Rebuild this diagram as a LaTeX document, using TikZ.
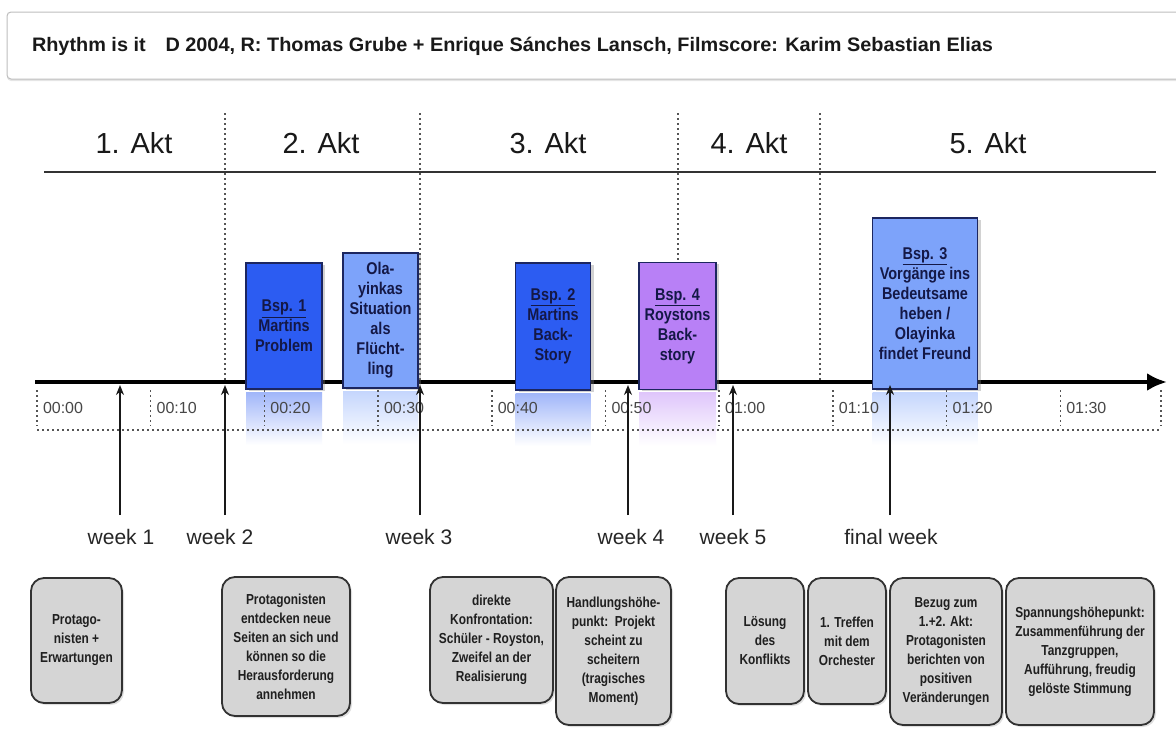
\documentclass[tikz,border=0pt]{standalone}
\usepackage{fontspec}
\setmainfont{Liberation Sans}
\newfontfamily\condb[FakeStretch=0.85]{Liberation Sans Bold}
\newfontfamily\condc[FakeStretch=0.82]{Liberation Sans Bold}
\newfontfamily\hdrfont{Liberation Sans Bold}
\usepackage{graphicx}
\usetikzlibrary{arrows.meta,shadows,calc}

\definecolor{bstrong}{RGB}{44,92,242}
\definecolor{blight}{RGB}{125,163,250}
\definecolor{bpurple}{RGB}{184,128,246}
\definecolor{bborder}{RGB}{28,38,96}
\definecolor{btext}{RGB}{20,24,70}
\definecolor{gfill}{RGB}{213,213,213}
\definecolor{gline}{RGB}{50,50,50}
\definecolor{dotc}{RGB}{85,85,85}
\definecolor{hdrline}{RGB}{190,190,190}

\begin{document}
\begin{tikzpicture}[x=1pt,y=-1pt,
  every node/.style={inner sep=0pt,outer sep=0pt},
  dotline/.style={draw=dotc, line width=1.5pt, dash pattern=on 1.5pt off 3.5pt},
  evbox/.style={draw=bborder, line width=1.5pt, text=btext, align=center,
     font=\condb\fontsize{17}{20}\selectfont,
     drop shadow={shadow xshift=3pt, shadow yshift=-1.5pt, opacity=0.35}},
  gbox/.style={draw=gline, line width=1.8pt, fill=gfill, rounded corners=13pt,
     align=center, text=black!88, font=\condc\fontsize{14.5}{19}\selectfont,
     drop shadow={shadow xshift=2pt, shadow yshift=-2pt, opacity=0.25}},
  hbox/.style={draw=hdrline, line width=1pt, fill=white, rounded corners=4pt,
     drop shadow={shadow xshift=0pt, shadow yshift=-2pt, opacity=0.2}},
  acttitle/.style={font=\fontsize{29}{34}\selectfont, text=black!90},
  ticklabel/.style={anchor=west, font=\fontsize{16}{18}\selectfont, text=black!72},
  weeklabel/.style={font=\fontsize{21}{24}\selectfont, text=black!85},
  weekarrow/.style={line width=1.8pt, draw=black!90, -{Stealth[length=10pt,width=8pt]}},
  timeline/.style={line width=4.5pt, draw=black, -{Latex[length=20pt,width=18pt]}},
  actrule/.style={line width=2pt, draw=black!80}
]
\useasboundingbox (0,0) rectangle (1176,729);
\fill[white] (0,0) rectangle (1176,729);

% header
\node[hbox, minimum width=1190pt, minimum height=67pt, anchor=north west] (hdr) at (7,12) {};
\node[anchor=west, text=black!90] (htitle) at (32,46)
  {\resizebox{961pt}{\height}{\hdrfont\fontsize{19.5}{22}\selectfont Rhythm is it\hspace{14pt} D 2004, R: Thomas Grube + Enrique Sánches Lansch, Filmscore: Karim Sebastian Elias}};

% acts
\node[acttitle] (a1) at (134,143) {1. Akt};
\node[acttitle] (a2) at (321,143) {2. Akt};
\node[acttitle] (a3) at (548,143) {3. Akt};
\node[acttitle] (a4) at (749,143) {4. Akt};
\node[acttitle] (a5) at (988,143) {5. Akt};
\coordinate (r0) at (44,172);
\coordinate (r1) at (1156,172);
\draw[actrule] (r0) -- (r1);
\foreach \x in {225,420,678,820}{
  \draw[dotline] (\x,113) -- (\x,382);
}

% timeline
\coordinate (tl0) at (35,382);
\coordinate (tl1) at (1167,382);
\draw[timeline] (tl0) -- (tl1);

% event boxes
\node[evbox, fill=bstrong, minimum width=76pt, minimum height=126pt] (b1) at (284,326)
  {\underline{Bsp. 1}\\Martins\\Problem};
\node[evbox, fill=blight, minimum width=75pt, minimum height=135pt] (b2) at (380.5,320.5)
  {Ola-\\yinkas\\Situation\\als\\Flücht-\\ling};
\node[evbox, fill=bstrong, minimum width=75pt, minimum height=127pt] (b3) at (553,326.5)
  {\underline{Bsp. 2}\\Martins\\Back-\\Story};
\node[evbox, fill=bpurple, minimum width=77pt, minimum height=127pt] (b4) at (677.5,326)
  {\underline{Bsp. 4}\\Roystons\\Back-\\story};
\node[evbox, fill=blight, minimum width=105pt, minimum height=171pt] (b5) at (925,303.5)
  {\underline{Bsp. 3}\\Vorgänge ins\\Bedeutsame\\heben /\\Olayinka\\findet Freund};

% reflections
\foreach \b/\c in {b1/bstrong,b2/blight,b3/bstrong,b4/bpurple,b5/blight}{
  \shade[top color=\c!45!white, bottom color=white]
    ($(\b.south west)+(0,3)$) rectangle ($(\b.south east)+(0,56)$);
}

% time scale
\foreach \k/\lab in {0/00:00,1/00:10,2/00:20,3/00:30,4/00:40,5/00:50,6/01:00,7/01:10,8/01:20,9/01:30}{
  \pgfmathsetmacro{\xx}{37+113.7*\k}
  \draw[dotline] (\xx,390) -- (\xx,426);
  \node[ticklabel] at (\xx+6,408) {\lab};
}
\draw[dotline] (1161,390) -- (1161,426);
\coordinate (s0) at (37,430);
\coordinate (s1) at (1161,430);
\draw[dotline] (s0) -- (s1);

% weeks
\foreach \n/\x/\lx/\t in {1/120/121/week 1,2/225/220/week 2,3/420/419/week 3,4/628/631/week 4,5/733/733/week 5,6/890/891/final week}{
  \coordinate (ws\n) at (\x,515);
  \coordinate (we\n) at (\x,385);
  \draw[weekarrow] (ws\n) -- (we\n);
  \node[weeklabel] (wl\n) at (\lx,537) {\t};
}

% bottom boxes
\node[gbox, minimum width=91pt, minimum height=125pt] (c1) at (76.5,640.5)
  {Protago-\\nisten +\\Erwartungen};
\node[gbox, minimum width=128pt, minimum height=139pt] (c2) at (286,646.5)
  {Protagonisten\\entdecken neue\\Seiten an sich und\\können so die\\Herausforderung\\annehmen};
\node[gbox, minimum width=123pt, minimum height=126pt] (c3) at (491.5,640)
  {direkte\\Konfrontation:\\Schüler - Royston,\\Zweifel an der\\Realisierung};
\node[gbox, minimum width=115pt, minimum height=148pt] (c4) at (613.5,651)
  {Handlungshöhe-\\punkt:\ \ Projekt\\scheint zu\\scheitern\\(tragisches\\Moment)};
\node[gbox, minimum width=78pt, minimum height=126pt] (c5) at (765,641)
  {Lösung\\des\\Konflikts};
\node[gbox, minimum width=78pt, minimum height=126pt] (c6) at (847,641)
  {1. Treffen\\mit dem\\Orchester};
\node[gbox, minimum width=112pt, minimum height=147pt] (c7) at (946,651.5)
  {Bezug zum\\1.+2. Akt:\\Protagonisten\\berichten von\\positiven\\Veränderungen};
\node[gbox, minimum width=148pt, minimum height=147pt] (c8) at (1080,651.5)
  {Spannungshöhepunkt:\\Zusammenführung der\\Tanzgruppen,\\Aufführung, freudig\\gelöste Stimmung};
\end{tikzpicture}
\end{document}
